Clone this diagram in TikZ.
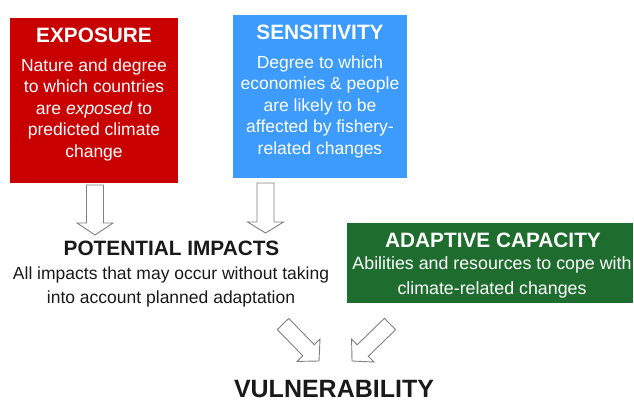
\documentclass[tikz,border=0pt]{standalone}
\usepackage{fontspec}
\setmainfont{Liberation Sans}
\usetikzlibrary{calc}
\definecolor{exposred}{RGB}{200,0,0}
\definecolor{sensblue}{RGB}{60,155,252}
\definecolor{adaptgreen}{RGB}{30,108,46}
\definecolor{arrowgray}{RGB}{128,128,128}
\definecolor{inktext}{RGB}{25,25,25}

% hollow block arrow from tail #1 to tip #2
% #3 shaft half width, #4 head half width, #5 head length
\newcommand\hollowarrow[5]{%
  \draw[hollow]
    ($(#1)!#3!90:(#2)$) --
    ($(#2)!#5!(#1)!#3!-90:(#1)$) --
    ($(#2)!#5!(#1)!#4!-90:(#1)$) --
    (#2) --
    ($(#2)!#5!(#1)!#4!90:(#1)$) --
    ($(#2)!#5!(#1)!#3!90:(#1)$) --
    ($(#1)!#3!-90:(#2)$) -- cycle;}

\begin{document}
\begin{tikzpicture}[x=1pt,y=-1pt,
  box/.style={draw=none, inner sep=0pt},
  boxtitle/.style={font=\bfseries\fontsize{20.8}{25}\selectfont, text=white, inner sep=0pt, anchor=base},
  boxbody/.style={font=\fontsize{17.5}{21.5}\selectfont, text=white, align=center, inner sep=0pt, anchor=base},
  widebody/.style={boxbody, font=\fontsize{17.8}{25}\selectfont},
  headline/.style={font=\bfseries\fontsize{20.8}{25}\selectfont, text=inktext, inner sep=0pt, anchor=base},
  plainbody/.style={font=\fontsize{17.5}{24}\selectfont, text=inktext, align=center, inner sep=0pt, anchor=base},
  hollow/.style={draw=arrowgray, fill=white, line width=0.9pt, line join=miter}]
\useasboundingbox (0,0) rectangle (634,399);

% exposure box (multi-line texts are placed by their last baseline)
\node[box, fill=exposred, minimum width=168pt, minimum height=165pt] (expbox) at (94,100.5) {};
\node[boxtitle] (exptitle) at (94,42) {EXPOSURE};
\node[boxbody] (expbody) at (94,157) {Nature and degree\\to which countries\\are \textit{exposed} to\\predicted climate\\change};

% sensitivity box
\node[box, fill=sensblue, minimum width=174pt, minimum height=163pt] (sensbox) at (320,96.5) {};
\node[boxtitle] (senstitle) at (320,39.5) {SENSITIVITY};
\node[boxbody] (sensbody) at (320,154) {Degree to which\\economies \& people\\are likely to be\\affected by fishery-\\related changes};

% adaptive capacity box
\node[box, fill=adaptgreen, minimum width=286pt, minimum height=80pt] (adaptbox) at (490,263) {};
\node[boxtitle] (adapttitle) at (493,247) {ADAPTIVE CAPACITY};
\node[widebody] (adaptbody) at (492,294) {Abilities and resources to cope with\\climate-related changes};

% potential impacts
\node[headline] (imptitle) at (171.5,255.5) {POTENTIAL IMPACTS};
\node[plainbody] (impbody) at (171,303) {All impacts that may occur without taking\\into account planned adaptation};

% vulnerability
\node[font=\bfseries\fontsize{25}{28}\selectfont, text=inktext, inner sep=0pt, anchor=base] (vuln) at (334,397) {VULNERABILITY};

% arrow ends
\coordinate (expout) at (95,185);
\coordinate (impinA) at (95,235);
\coordinate (sensout) at (265.5,183);
\coordinate (impinB) at (265.5,233);
\coordinate (impout) at (283,324);
\coordinate (vulninA) at (319,361);
\coordinate (adaptout) at (390,324);
\coordinate (vulninB) at (352,361);

\hollowarrow{expout}{impinA}{8.5pt}{18pt}{12pt}
\hollowarrow{sensout}{impinB}{8.5pt}{18pt}{11pt}
\hollowarrow{impout}{vulninA}{8pt}{16pt}{15pt}
\hollowarrow{adaptout}{vulninB}{8pt}{16pt}{15pt}
\end{tikzpicture}
\end{document}
